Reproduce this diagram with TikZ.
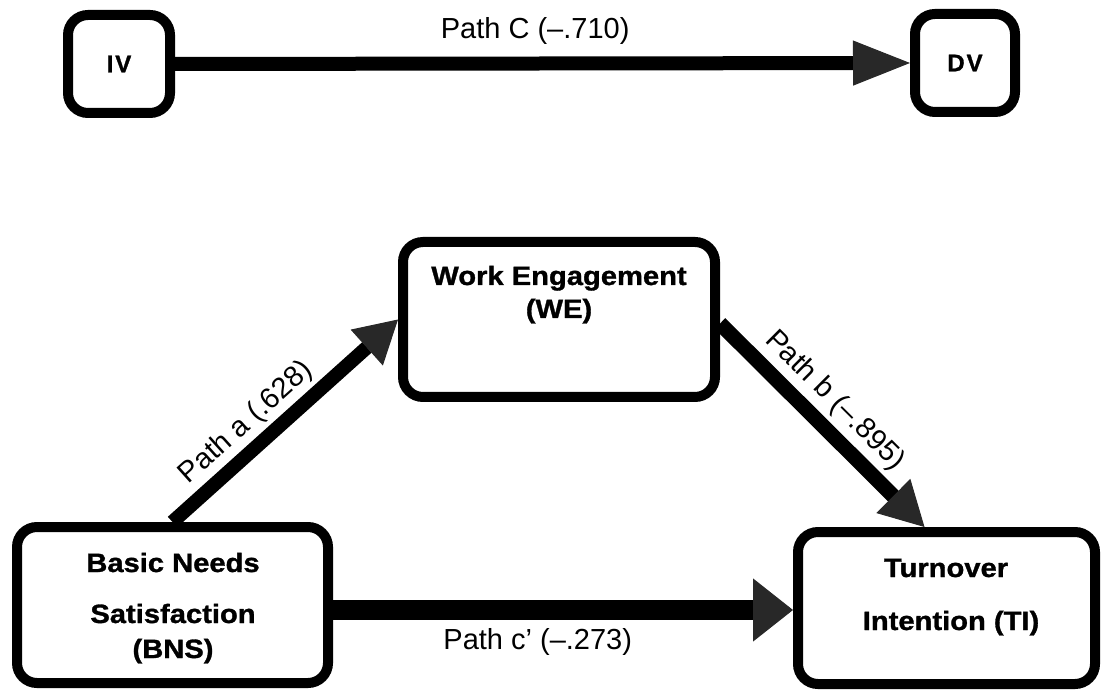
\documentclass[tikz,border=0pt]{standalone}
\usepackage{fontspec}
\setmainfont{Liberation Sans}
\newfontfamily\boxfont{Liberation Sans}[FakeStretch=1.1,FakeBold=1.2]
\newfontfamily\smallboxfont{Liberation Sans}[LetterSpace=8,FakeBold=1.2]
\usetikzlibrary{arrows.meta,calc}
\definecolor{hgray}{RGB}{40,40,40}
\begin{document}
\begin{tikzpicture}[x=1pt,y=-1pt,
  box/.style={draw=black, line width=10pt, rounded corners=20pt, inner sep=0pt, fill=white},
  btxt/.style={font=\boxfont\bfseries\fontsize{26.5}{30}\selectfont, anchor=base, inner sep=0pt},
  stxt/.style={font=\smallboxfont\bfseries\fontsize{24}{28}\selectfont, inner sep=0pt},
  plabel/.style={font=\fontsize{29}{32}\selectfont, inner sep=2pt},
  conn/.style={draw=black, line width=14pt},
]
\useasboundingbox (0,0) rectangle (1103,692);
% boxes
\node[box, minimum width=102pt, minimum height=98pt] (IV) at (119,64) {};
\node[box, minimum width=100pt, minimum height=98pt] (DV) at (965,63) {};
\node[box, minimum width=312pt, minimum height=155pt] (WE) at (559,319.5) {};
\node[box, minimum width=311pt, minimum height=156pt] (BNS) at (172.5,605) {};
\node[box, minimum width=297pt, minimum height=152pt] (TI) at (946.5,608) {};
% box texts
\node[stxt] (IVt) at (IV.center) {IV};
\node[stxt] (DVt) at (DV.center) {DV};
\node[btxt] (WE1) at (559,285) {Work Engagement};
\node[btxt] (WE2) at (559,318) {(WE)};
\node[btxt] (BNS1) at (173,572) {Basic Needs};
\node[btxt] (BNS2) at (173,623) {Satisfaction};
\node[btxt] (BNS3) at (173,658) {(BNS)};
\node[btxt] (TI1) at (946,577) {Turnover};
\node[btxt] (TI2) at (951,630) {Intention (TI)};
% connectors
\draw[conn, -{Triangle[length=57pt,width=45pt,line width=1pt,color=hgray]}]
  (IV.east) -- node[plabel, above=10pt, pos=0.49] (lC) {Path C (–.710)} (DV.west);
\draw[conn, line width=14pt, -{Triangle[length=42pt,width=48pt,line width=1pt,color=hgray]}]
  (BNS.north) -- node[plabel, sloped, above=2pt, pos=0.40] (la) {Path a (.628)} (WE.west);
\draw[conn, line width=15pt, -{Triangle[length=44pt,width=48pt,line width=1pt,color=hgray]}]
  ($(WE.east)+(0,4)$) -- node[plabel, sloped, above=3pt, pos=0.47] (lb) {Path b (–.895)} ($(TI.north)+(-22,0)$);
\draw[conn, line width=20pt, -{Triangle[length=40pt,width=63pt,line width=1pt,color=hgray]}]
  ($(BNS.east)+(0,5)$) -- node[plabel, below=6pt, pos=0.445] (lc) {Path c’ (–.273)} ($(TI.west)+(0,2)$);
\end{tikzpicture}
\end{document}
